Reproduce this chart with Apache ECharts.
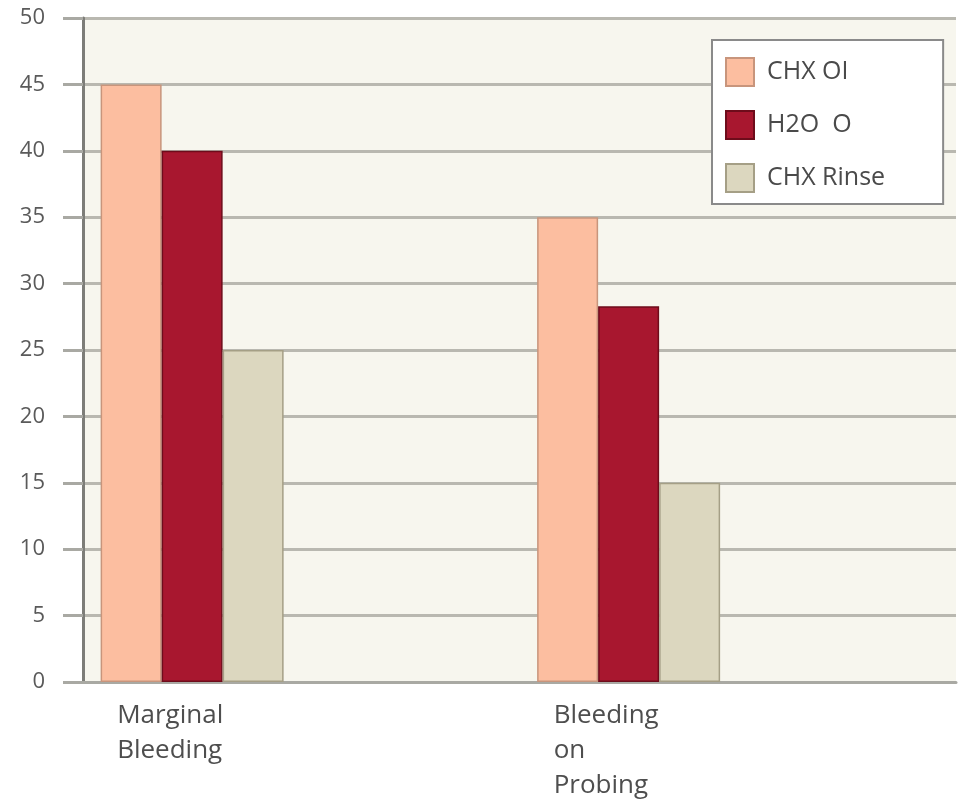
<!DOCTYPE html>
<html>
<head>
<meta charset="utf-8">
<script src="https://cdn.jsdelivr.net/npm/echarts@6/dist/echarts.min.js"></script>
<style>
	html, body { margin: 0; padding: 0; background: #fff; }
	#chartDiv { width: 968px; height: 802px; }
</style>
</head>
<body>
<div id="chartDiv"></div>
<script>
const categories = ['Marginal\nBleeding', 'Bleeding\non\nProbing'];
const seriesNames = ['CHX OI', 'H2O  O', 'CHX Rinse'];
const chxOi = [45, 35];
const h2o = [40, 28.3];
const chxRinse = [25, 15];
const yTicks = [0, 5, 10, 15, 20, 25, 30, 35, 40, 45, 50];

// every category gets an empty spacer band after it, like the original layout
const padCats = categories.flatMap(c => [c, '']);
const pad = arr => arr.flatMap(v => [v, null]);

const fills = ['#fcbea0', '#a8172f', '#dcd7bf'];
const borders = ['#c8957c', '#6e0c1b', '#a59f86'];

let chart = echarts.init(document.getElementById('chartDiv'));
let option = {
	backgroundColor: '#ffffff',
	animation: false,
	textStyle: { fontFamily: 'Open Sans' },
	grid: {
		left: 83,
		right: 12,
		top: 18,
		bottom: 120,
		backgroundColor: '#f7f6ee',
		show: true,
		borderWidth: 0
	},
	legend: {
		orient: 'vertical',
		left: 712,
		top: 40,
		padding: [17, 58, 11, 13],
		itemWidth: 28,
		itemHeight: 28,
		itemGap: 23,
		backgroundColor: '#ffffff',
		borderColor: '#8a8a8a',
		borderWidth: 2,
		textStyle: {
			color: '#4a4a4a',
			fontSize: 25,
			padding: [0, 0, 0, 8]
		},
		data: seriesNames.map(n => ({ name: n, icon: 'rect' }))
	},
	xAxis: {
		type: 'category',
		data: padCats,
		axisLine: { lineStyle: { color: '#a9a9a3', width: 3 } },
		axisTick: { show: false },
		axisLabel: {
			margin: 16,
			interval: 0,
			formatter: function(value) {
				if (!value) return '';
				return value.split('\n').map(s => '{a|' + s + '}').join('\n');
			},
			rich: {
				a: {
					width: 150,
					align: 'left',
					color: '#4e4e4e',
					fontSize: 26,
					lineHeight: 35,
					fontFamily: 'Open Sans'
				}
			}
		}
	},
	yAxis: {
		type: 'value',
		min: yTicks[0],
		max: yTicks[yTicks.length - 1],
		interval: 5,
		axisLine: { show: true, lineStyle: { color: '#7d7d78', width: 3 } },
		axisTick: { show: true, length: 20, lineStyle: { color: '#a9a9a3', width: 3 } },
		axisLabel: {
			margin: 38,
			color: '#5a5a5a',
			fontSize: 22
		},
		splitLine: { lineStyle: { color: '#b9b8b0', width: 3 } }
	},
	series: [chxOi, h2o, chxRinse].map((vals, i) => ({
		name: seriesNames[i],
		type: 'bar',
		barWidth: 61,
		barGap: '0%',
		itemStyle: {
			color: fills[i],
			borderColor: borders[i],
			borderWidth: 1.5
		},
		data: pad(vals)
	}))
};
chart.setOption(option);
</script>
</body>
</html>
